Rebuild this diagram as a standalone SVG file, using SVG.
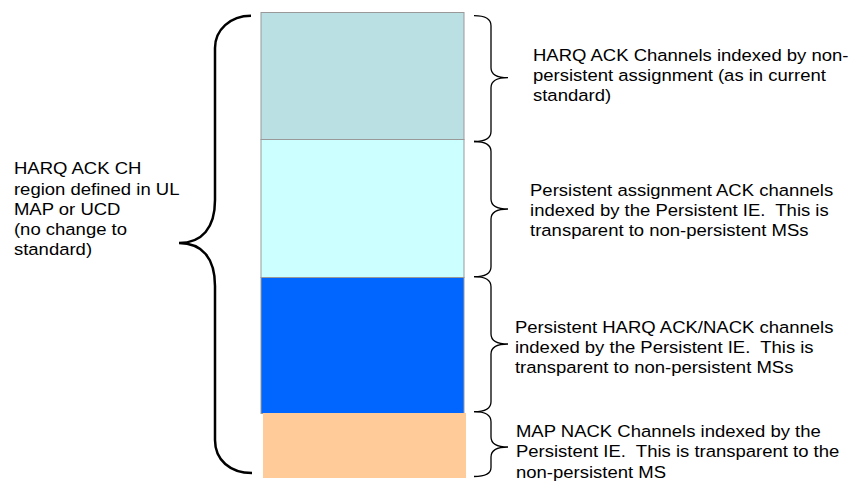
<svg xmlns="http://www.w3.org/2000/svg" width="851" height="483" viewBox="0 0 851 483">
<style>
.lbl{font-family:"Liberation Sans",Arial,sans-serif;font-size:16.3px;fill:#000;white-space:pre}
.br{fill:none;stroke:#000;stroke-width:1.3}
.bl{fill:none;stroke:#000;stroke-width:2.5}
.cell{stroke:#999999;stroke-width:1}
</style>
<rect width="851" height="483" fill="#ffffff"/>
<g id="region-harq-ack-nonpersistent"><rect class="cell" x="261" y="12.5" width="203" height="127" fill="#BBE0E3"/></g>
<g id="region-persistent-ack"><rect class="cell" x="261" y="139.5" width="203" height="138" fill="#CCFFFF"/></g>
<g id="region-persistent-harq-ack-nack"><rect class="cell" x="261" y="277.5" width="203" height="136" fill="#0066FF"/></g>
<g id="region-map-nack"><rect x="263" y="413" width="203" height="65" fill="#FFCC99"/></g>
<g id="connectors">
<path class="bl" d="M251,15.7 C230,15.7 215,30 215,48 L215,200 C215,228 202,243 179,243 C202,243 215,258 215,286 L215,440 C215,460 230,473 252,473"/>
<path class="br" d="M474,15.7 C485,15.7 491,18.7 491,25.7 L491,67.7 C491,73.7 496,77.7 508,77.7 C496,77.7 491,81.7 491,87.7 L491,131.5 C491,138.5 485,141.5 474,141.5"/>
<path class="br" d="M474,141.5 C485,141.5 491,144.5 491,151.5 L491,199 C491,205 496,209 508,209 C496,209 491,213 491,219 L491,266.7 C491,273.7 485,276.7 474,276.7"/>
<path class="br" d="M474,276.7 C485,276.7 491,279.7 491,286.7 L491,334 C491,340 496,344 508,344 C496,344 491,348 491,354 L491,401.7 C491,408.7 485,411.7 474,411.7"/>
<path class="br" d="M474,411.7 C485,411.7 491,414.7 491,421.7 L491,437 C491,443 496,447 508,447 C496,447 491,451 491,457 L491,467.5 C491,473.5 485,476.5 474,476.5"/>
</g>
<g id="labels" transform="scale(1.135 1)">
<g id="label-left">
<text class="lbl" x="12.3" y="174.3">HARQ ACK CH</text>
<text class="lbl" x="12.3" y="194.6">region defined in UL</text>
<text class="lbl" x="12.3" y="214.9">MAP or UCD</text>
<text class="lbl" x="12.3" y="235.2">(no change to</text>
<text class="lbl" x="12.3" y="255.5">standard)</text>
</g>
<g id="label-1">
<text class="lbl" x="469.6" y="61">HARQ ACK Channels indexed by non-</text>
<text class="lbl" x="469.6" y="81">persistent assignment (as in current</text>
<text class="lbl" x="469.6" y="101">standard)</text>
</g>
<g id="label-2">
<text class="lbl" x="467" y="196.5">Persistent assignment ACK channels</text>
<text class="lbl" x="467" y="216.5">indexed by the Persistent IE.  This is</text>
<text class="lbl" x="467" y="236.5">transparent to non-persistent MSs</text>
</g>
<g id="label-3">
<text class="lbl" x="453.7" y="333">Persistent HARQ ACK/NACK channels</text>
<text class="lbl" x="453.7" y="353">indexed by the Persistent IE.  This is</text>
<text class="lbl" x="453.7" y="373">transparent to non-persistent MSs</text>
</g>
<g id="label-4">
<text class="lbl" x="454.6" y="436.7">MAP NACK Channels indexed by the</text>
<text class="lbl" x="454.6" y="457.5">Persistent IE.  This is transparent to the</text>
<text class="lbl" x="454.6" y="478.3">non-persistent MS</text>
</g>
</g>
</svg>
